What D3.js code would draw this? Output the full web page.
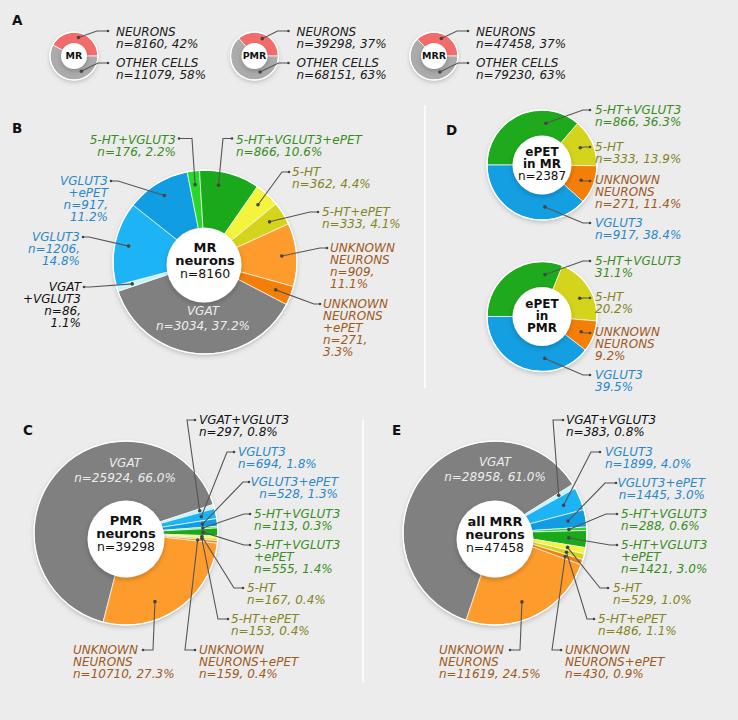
<!DOCTYPE html>
<html><head><meta charset="utf-8">
<script src="https://cdn.jsdelivr.net/npm/d3@7"></script>
<style>
body{margin:0;background:#ececec}
svg{display:block}
</style>
</head><body>
<svg width="738" height="720"></svg>
<script>
// ---------------- DATA ----------------
const regionsA = ["MR", "PMR", "MRR"];
const neuronCountsA = [8160, 39298, 47458];
const neuronPctA = [42, 37, 37];
const otherCountsA = [11079, 68151, 79230];
const otherPctA = [58, 63, 63];

const categories = ["VGAT", "VGAT+VGLUT3", "VGLUT3", "VGLUT3+ePET", "5-HT+VGLUT3",
  "5-HT+VGLUT3+ePET", "5-HT", "5-HT+ePET", "UNKNOWN NEURONS", "UNKNOWN NEURONS+ePET"];
const mrCounts  = [3034, 86, 1206, 917, 176, 866, 362, 333, 909, 271];
const mrPct     = [37.2, 1.1, 14.8, 11.2, 2.2, 10.6, 4.4, 4.1, 11.1, 3.3];
const pmrCounts = [25924, 297, 694, 528, 113, 555, 167, 153, 10710, 159];
const pmrPct    = [66.0, 0.8, 1.8, 1.3, 0.3, 1.4, 0.4, 0.4, 27.3, 0.4];
const mrrCounts = [28958, 383, 1899, 1445, 288, 1421, 529, 486, 11619, 430];
const mrrPct    = [61.0, 0.8, 4.0, 3.0, 0.6, 3.0, 1.0, 1.1, 24.5, 0.9];

const ePetCategories = ["5-HT+VGLUT3", "5-HT", "UNKNOWN NEURONS", "VGLUT3"];
const ePetMrCounts = [866, 333, 271, 917];
const ePetMrPct    = [36.3, 13.9, 11.4, 38.4];
const ePetPmrPct   = [31.1, 20.2, 9.2, 39.5];
const ePetTitles = [["ePET", "in MR"], ["ePET", "in", "PMR"]];
const ePetTotal = 2387;

// ---------------- STYLE ----------------
const FONT = "'DejaVu Sans', Verdana, sans-serif";
const C_GREEN = "#3a8c1e", C_OLIVE = "#84841c", C_BROWN = "#9e5a1e", C_BLUE = "#2a88c8";
const sliceColors = ["#808080", "#c6f2fa", "#1db4f6", "#109de1", "#27d827",
  "#1aa91a", "#f4f43c", "#d4d41c", "#fd9b2d", "#f47f08"];
const textColors = ["#ededed", "#111", C_BLUE, C_BLUE, C_GREEN, C_GREEN, C_OLIVE, C_OLIVE, C_BROWN, C_BROWN];
const ePetColors = ["#1fa91c", "#d4d41c", "#f47f08", "#149fe2"];
const ePetTextColors = [C_GREEN, C_OLIVE, C_BROWN, C_BLUE];
const aColors = ["#f36c6c", "#ababab"];

const svg = d3.select("svg");
const defs = svg.append("defs");
const flt = defs.append("filter").attr("id", "sh")
  .attr("x", "-30%").attr("y", "-30%").attr("width", "160%").attr("height", "160%");
flt.append("feDropShadow").attr("dx", 0).attr("dy", 2).attr("stdDeviation", 2.5)
  .attr("flood-color", "#000").attr("flood-opacity", 0.22);

const rad = d => d * Math.PI / 180;
const f1 = d3.format(".1f");

function pieArcs(values, order, startDeg) {
  const rank = new Map(order.map((k, j) => [k, j]));
  const items = values.map((v, i) => ({ i, v }));
  return d3.pie().value(d => d.v)
    .sort((a, b) => rank.get(a.i) - rank.get(b.i))
    .startAngle(rad(startDeg)).endAngle(rad(startDeg) + 2 * Math.PI)(items);
}

const layerPie = svg.append("g");
const layerHole = svg.append("g");
const layerLead = svg.append("g");
const layerText = svg.append("g");

function drawPie(cx, cy, r, arcs, colors, hole) {
  const g = layerPie.append("g").attr("transform", `translate(${cx},${cy})`);
  g.append("circle").attr("r", r).attr("fill", "#999").attr("filter", "url(#sh)");
  g.selectAll("path").data(arcs).join("path")
    .attr("d", d3.arc().innerRadius(0).outerRadius(r))
    .attr("fill", d => colors[d.data.i])
    .attr("stroke", "#fff").attr("stroke-width", 0.7).attr("stroke-linejoin", "round");
  g.append("circle").attr("r", r).attr("fill", "none").attr("stroke", "#fff").attr("stroke-width", 1.4);
  if (hole) layerHole.append("circle").attr("cx", hole.x).attr("cy", hole.y).attr("r", hole.r)
    .attr("fill", "#fff").attr("filter", "url(#sh)");
}

function anchorPt(arc, cx, cy, r, t) {
  const a = arc.startAngle + t * (arc.endAngle - arc.startAngle);
  return [cx + r * Math.sin(a), cy - r * Math.cos(a)];
}

function drawText(x, y, lines, o) {
  const size = o.size || 12;
  const lh = Math.max(o.lh || 12, 12);
  const t = layerText.append("text").attr("text-anchor", o.align || "start")
    .attr("fill", o.color).style("font-family", FONT)
    .style("font-style", o.italic === false ? "normal" : "italic");
  lines.forEach((ln, j) => {
    const s = typeof ln === "string" ? { t: ln } : ln;
    const sz = s.size || size;
    t.append("tspan").attr("x", x).attr("y", y + sz * 0.365 + j * lh)
      .style("font-size", sz + "px").style("font-weight", s.b ? "bold" : "normal").text(s.t);
  });
}

function leader(anchor, elbow, dot) {
  layerLead.append("path").attr("d", d3.line()([anchor, elbow, dot]))
    .attr("fill", "none").attr("stroke", "#555").attr("stroke-width", 1.1);
  layerLead.append("circle").attr("cx", anchor[0]).attr("cy", anchor[1]).attr("r", 1.8).attr("fill", "#444");
  layerLead.append("circle").attr("cx", dot[0]).attr("cy", dot[1]).attr("r", 1.3).attr("fill", "#444");
}

function nameLines(name, wrap) {
  let parts = [name];
  if (wrap.includes("s")) parts = name.split(" ");
  if (wrap.includes("p")) {
    const last = parts.pop();
    const k = last.lastIndexOf("+");
    if (k > 0) parts.push(last.slice(0, k), last.slice(k)); else parts.push(last);
  }
  return parts;
}
function valueLines(n, pct, mode) {
  const p = f1(pct) + "%";
  if (n == null) return [p];
  return mode === "split" ? [`n=${n},`, p] : [`n=${n}, ${p}`];
}

function panelLetter(x, y, s) {
  layerText.append("text").attr("x", x).attr("y", y + 4.8).attr("fill", "#111")
    .style("font-family", FONT).style("font-weight", "bold").style("font-size", "13.5px").text(s);
}

// ---------------- PANEL A ----------------
panelLetter(12, 20, "A");
const aCx = [74, 254.5, 434], aCy = 56;
regionsA.forEach((reg, k) => {
  const cx = aCx[k];
  const vals = [neuronCountsA[k], otherCountsA[k]];
  const start = 90 - 360 * vals[0] / d3.sum(vals);
  const arcs = d3.pie().sort(null).startAngle(rad(start)).endAngle(rad(start) + 2 * Math.PI)(vals)
    .map((a, i) => Object.assign(a, { data: { i, v: a.data } }));
  drawPie(cx, aCy, 24, arcs, aColors, { x: cx, y: aCy, r: 13 });
  drawText(cx, aCy, [{ t: reg, b: true }], { align: "middle", color: "#111", size: 9.5, italic: false });
  drawText(cx + 42, 32, ["NEURONS", `n=${neuronCountsA[k]}, ${neuronPctA[k]}%`], { color: "#1a1a1a", lh: 12 });
  drawText(cx + 42, 63, ["OTHER CELLS", `n=${otherCountsA[k]}, ${otherPctA[k]}%`], { color: "#1a1a1a", lh: 12 });
  leader(anchorPt(arcs[0], cx, aCy, 19, 0.5), [cx + 23, 31], [cx + 34, 31]);
  leader(anchorPt(arcs[1], cx, aCy, 17, 0.31), [cx + 24, 63], [cx + 34, 63]);
});

// ---------------- BIG PIES (B, C, E) ----------------
function bigPanel(cfg) {
  const arcs = pieArcs(cfg.counts, cfg.order, cfg.start);
  drawPie(cfg.cx, cfg.cy, cfg.r, arcs, sliceColors, cfg.hole);
  cfg.labels.forEach(L => {
    const i = L.i;
    const lines = nameLines(categories[i], L.wrap || "").concat(valueLines(cfg.counts[i], cfg.pct[i], L.val || "one"));
    drawText(L.x, L.y, lines, { align: L.align || "start", color: textColors[i], lh: L.lh || 12 });
    if (L.dot) leader(anchorPt(arcs[i], cfg.cx, cfg.cy, L.r || 77, L.t ?? 0.5), L.elbow, L.dot);
  });
  drawText(cfg.cx, cfg.centerY, [
    { t: cfg.title[0], b: true, size: 13 }, { t: cfg.title[1], b: true, size: 13 },
    { t: `n=${cfg.total}`, size: 12.5 }], { align: "middle", color: "#111", italic: false, lh: 13 });
}

const orderB = [0, 1, 2, 3, 4, 5, 6, 7, 8, 9];
const orderCE = [0, 1, 2, 3, 4, 5, 6, 7, 9, 8];

panelLetter(12, 128, "B");
bigPanel({
  cx: 205, cy: 262, r: 92, start: 117.5, order: orderB, counts: mrCounts, pct: mrPct,
  hole: { x: 204, y: 265, r: 37.5 }, centerY: 247.5, title: [regionsA[0], "neurons"], total: neuronCountsA[0],
  labels: [
    { i: 0, x: 203, y: 311, align: "middle", lh: 14.5 },
    { i: 1, x: 81, y: 287, align: "end", wrap: "p", val: "split", dot: [84, 287], elbow: [90, 287], r: 76 },
    { i: 2, x: 80, y: 237, align: "end", val: "split", dot: [83, 237], elbow: [89, 237], r: 78 },
    { i: 3, x: 108, y: 181, align: "end", wrap: "p", val: "split", dot: [111, 181], elbow: [118, 181], r: 78 },
    { i: 4, x: 176, y: 140, align: "end", dot: [179, 138.5], elbow: [192, 138.5], r: 78 },
    { i: 5, x: 236, y: 139.5, dot: [232, 138.5], elbow: [223, 138.5], r: 78, t: 0.35 },
    { i: 6, x: 292, y: 172, dot: [289, 172], elbow: [282, 172], r: 78 },
    { i: 7, x: 322, y: 212, dot: [318, 212], elbow: [310, 212], r: 76 },
    { i: 8, x: 330, y: 248, wrap: "s", val: "split", dot: [327, 248], elbow: [320, 248], r: 77 },
    { i: 9, x: 323, y: 304, wrap: "sp", val: "split", dot: [320, 304], elbow: [314, 304], r: 76 }
  ]
});

panelLetter(23, 430, "C");
bigPanel({
  cx: 126, cy: 533, r: 92, start: 194.4, order: orderCE, counts: pmrCounts, pct: pmrPct,
  hole: { x: 126, y: 539, r: 38.5 }, centerY: 520, title: [regionsA[1], "neurons"], total: neuronCountsA[1],
  labels: [
    { i: 0, x: 125, y: 463, align: "middle", lh: 14.5 },
    { i: 1, x: 199, y: 420, dot: [195, 420], elbow: [187, 420], r: 77 },
    { i: 2, x: 238, y: 452, dot: [234, 452], elbow: [227, 452], r: 77 },
    { i: 3, x: 338, y: 482, align: "end", dot: [249, 482], elbow: [243, 482], r: 77 },
    { i: 4, x: 254, y: 514, dot: [250, 514], elbow: [244, 514], r: 77 },
    { i: 5, x: 254, y: 545, wrap: "p", dot: [250, 545], elbow: [244, 545], r: 77 },
    { i: 6, x: 247, y: 588, dot: [243, 588], elbow: [234, 588], r: 76 },
    { i: 7, x: 231, y: 619, dot: [228, 619], elbow: [218, 619], r: 76 },
    { i: 8, x: 73, y: 650, wrap: "s", dot: [143, 650], elbow: [153, 650], r: 74.5, t: 0.62 },
    { i: 9, x: 199, y: 650, wrap: "s", dot: [195, 650], elbow: [185, 650], r: 72 }
  ]
});

panelLetter(392, 430, "E");
bigPanel({
  cx: 495, cy: 533, r: 92, start: 198.3, order: orderCE, counts: mrrCounts, pct: mrrPct,
  hole: { x: 495, y: 539, r: 38.5 }, centerY: 521, title: ["all " + regionsA[2], "neurons"], total: neuronCountsA[2],
  labels: [
    { i: 0, x: 495, y: 462, align: "middle", lh: 14.5 },
    { i: 1, x: 566, y: 420, dot: [563, 420], elbow: [553, 420], r: 74 },
    { i: 2, x: 605, y: 452, dot: [600, 452], elbow: [591, 452], r: 74 },
    { i: 3, x: 705, y: 483, align: "end", dot: [616, 483], elbow: [605, 483], r: 74 },
    { i: 4, x: 621, y: 514, dot: [617, 514], elbow: [606, 514], r: 74 },
    { i: 5, x: 621, y: 545, wrap: "p", dot: [617, 545], elbow: [610, 545], r: 74 },
    { i: 6, x: 613, y: 588, dot: [608, 588], elbow: [600, 588], r: 74 },
    { i: 7, x: 598, y: 619, dot: [594, 619], elbow: [587, 619], r: 74 },
    { i: 8, x: 439, y: 650, wrap: "s", dot: [510, 650], elbow: [520, 650], r: 74, t: 0.55 },
    { i: 9, x: 565, y: 650, wrap: "s", dot: [561, 650], elbow: [552, 650], r: 74 }
  ]
});

// ---------------- PANEL D ----------------
panelLetter(446, 130, "D");
function ePetPanel(cfg) {
  const arcs = pieArcs(cfg.values, [0, 1, 2, 3], -90);
  drawPie(cfg.cx, cfg.cy, 55, arcs, ePetColors, { x: cfg.cx, y: cfg.cy, r: 29.5 });
  cfg.labels.forEach(L => {
    const i = L.i;
    const lines = nameLines(ePetCategories[i], L.wrap || "")
      .concat(valueLines(cfg.counts ? cfg.counts[i] : null, cfg.pct[i], "one"));
    drawText(595, L.y, lines, { color: ePetTextColors[i], lh: 12 });
    leader(anchorPt(arcs[i], cfg.cx, cfg.cy, 42, L.t ?? 0.5), [L.ex, L.dy], [590, L.dy]);
  });
  drawText(cfg.cx, cfg.centerY, cfg.center, { align: "middle", color: "#111", italic: false, lh: 12 });
}
ePetPanel({
  cx: 542, cy: 165, values: ePetMrCounts, counts: ePetMrCounts, pct: ePetMrPct, centerY: 152,
  center: [{ t: ePetTitles[0][0], b: true }, { t: ePetTitles[0][1], b: true }, { t: `n=${ePetTotal}` }],
  labels: [
    { i: 0, y: 110, dy: 110, ex: 583, t: 0.73 },
    { i: 1, y: 147, dy: 147, ex: 584 },
    { i: 2, y: 180, dy: 181, ex: 584, wrap: "s" },
    { i: 3, y: 223, dy: 223, ex: 583, t: 0.32 }
  ]
});
ePetPanel({
  cx: 542, cy: 316.5, values: ePetPmrPct, counts: null, pct: ePetPmrPct, centerY: 304,
  center: ePetTitles[1].map(t => ({ t, b: true })),
  labels: [
    { i: 0, y: 261, dy: 261, ex: 583, t: 0.84 },
    { i: 1, y: 297, dy: 298, ex: 584, t: 0.58 },
    { i: 2, y: 332, dy: 333, ex: 584, wrap: "s" },
    { i: 3, y: 375, dy: 375, ex: 583, t: 0.34 }
  ]
});

// ---------------- SEPARATORS ----------------
svg.append("line").attr("x1", 425).attr("x2", 425).attr("y1", 105).attr("y2", 388)
  .attr("stroke", "#fff").attr("stroke-width", 1.5);
svg.append("line").attr("x1", 363).attr("x2", 363).attr("y1", 420).attr("y2", 683)
  .attr("stroke", "#fff").attr("stroke-width", 1.5);
</script>
</body></html>
